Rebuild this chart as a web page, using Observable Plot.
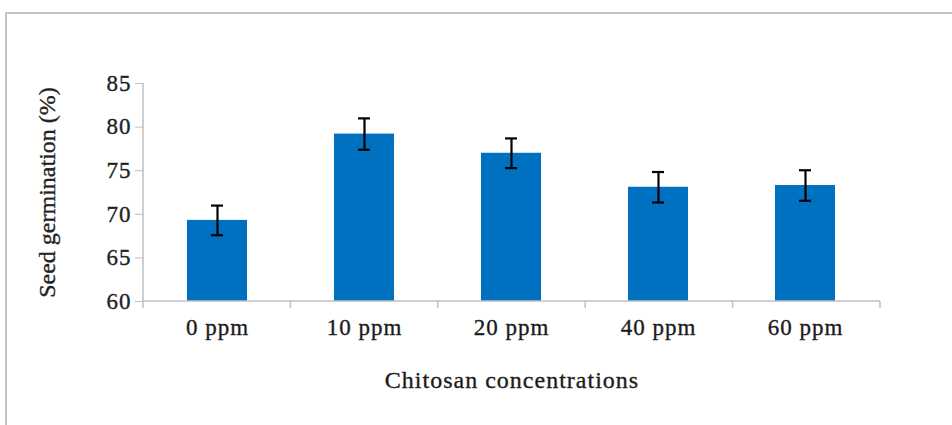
<!DOCTYPE html>
<html><head><meta charset="utf-8">
<script src="https://cdn.jsdelivr.net/npm/d3@7"></script>
<script src="https://cdn.jsdelivr.net/npm/@observablehq/plot@0.6"></script>
<style>
body{margin:0;background:#fff;}
#wrap{position:relative;width:952px;height:425px;overflow:hidden;background:#fff;}
#frame{position:absolute;left:5px;top:12px;width:1000px;height:500px;border-left:2px solid #c4c4c4;border-top:2px solid #c4c4c4;}
#chart{position:absolute;left:0;top:0;}
#chart svg text{letter-spacing:1px;stroke:#222;stroke-width:0.35px;}
#chart svg text.ytitle{letter-spacing:0;}
</style></head><body>
<div id="wrap"><div id="frame"></div><div id="chart"></div></div>
<script>
const categories = ["0 ppm", "10 ppm", "20 ppm", "40 ppm", "60 ppm"];
const germination = [69.3, 79.2, 77.0, 73.1, 73.3];
const errors = [1.7, 1.8, 1.7, 1.75, 1.75];
const yTicks = [60, 65, 70, 75, 80, 85];
const yTitle = "Seed germination (%)";
const xTitle = "Chitosan concentrations";

const data = categories.map((c, i) => ({c, v: germination[i], lo: germination[i] - errors[i], hi: germination[i] + errors[i]}));
const font = '"Liberation Serif", "Times New Roman", serif';
const axisGray = "#bfbfbf";

const plot = Plot.plot({
  width: 952, height: 425,
  marginLeft: 143, marginRight: 72, marginTop: 83, marginBottom: 124,
  style: {fontFamily: font, background: "transparent", overflow: "visible"},
  x: {domain: categories, paddingInner: 0.59, paddingOuter: 0.295},
  y: {domain: [yTicks[0], yTicks[yTicks.length - 1]]},
  marks: [
    Plot.barY(data, {x: "c", y1: yTicks[0], y2: "v", fill: "#0070C0"}),
    Plot.ruleX(data, {x: "c", y1: "lo", y2: "hi", stroke: "#000", strokeWidth: 2.2}),
    Plot.tickY(data, {x: "c", y: "lo", stroke: "#000", strokeWidth: 2.2, insetLeft: 24, insetRight: 24}),
    Plot.tickY(data, {x: "c", y: "hi", stroke: "#000", strokeWidth: 2.2, insetLeft: 24, insetRight: 24}),
    Plot.axisY({ticks: yTicks, tickSize: 8, tickPadding: 4, fontSize: 23, stroke: axisGray, fill: "#222",
      label: yTitle, labelAnchor: "center", labelOffset: 106, labelArrow: false}),
    Plot.axisX({tickSize: 0, tickPadding: 17, fontSize: 23, fill: "#1a1a1a",
      label: xTitle, labelAnchor: "center", labelOffset: 86, labelArrow: false})
  ]
});
document.getElementById("chart").appendChild(plot);
// larger titles
const svg = d3.select(plot);
svg.selectAll("text").filter(function() { return this.textContent === yTitle; }).attr("font-size", 24).classed("ytitle", true);
svg.selectAll("text").filter(function() { return this.textContent === xTitle; }).attr("font-size", 24);

// axis lines and category boundary ticks, from the plot's own scales
const xs = plot.scale("x"), ys = plot.scale("y");
const g = svg.append("g").attr("stroke", axisGray).attr("stroke-width", 1.5).attr("fill", "none");
const [x0, x1] = xs.range;
const [yb, yt] = ys.range;
g.append("line").attr("x1", x0).attr("x2", x0).attr("y1", yt).attr("y2", yb);
g.append("line").attr("x1", x0).attr("x2", x1).attr("y1", yb).attr("y2", yb);
const step = (x1 - x0) / categories.length;
d3.range(categories.length + 1).forEach(i => {
  const x = x0 + i * step;
  g.append("line").attr("x1", x).attr("x2", x).attr("y1", yb).attr("y2", yb + 7);
});
</script>
</body></html>
